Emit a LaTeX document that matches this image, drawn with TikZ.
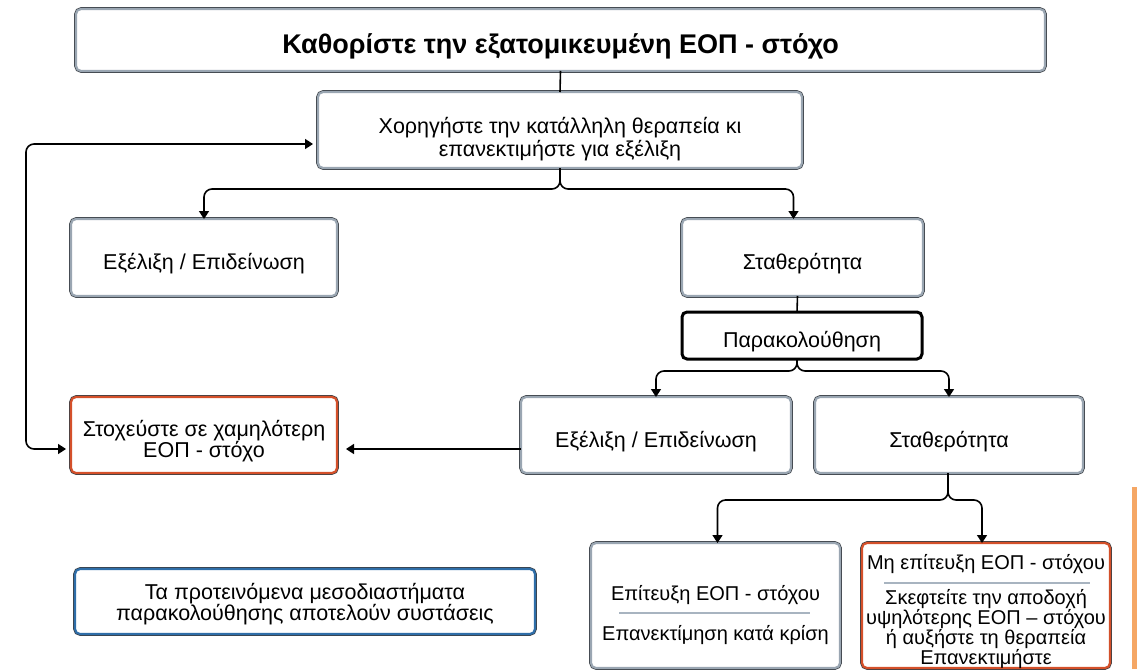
\documentclass[tikz,border=0pt]{standalone}
\usepackage{fontspec}
\setmainfont{Liberation Sans}
\usetikzlibrary{arrows.meta,calc}
\definecolor{boxgray}{HTML}{9AA6B2}
\definecolor{boxdark}{HTML}{3B4046}
\definecolor{boxred}{HTML}{D4502A}
\definecolor{boxblue}{HTML}{2F6EA8}
\definecolor{sepgray}{HTML}{A8B4C0}
\definecolor{edgeorange}{HTML}{F5A765}
\tikzset{
  x=1pt, y=-1pt,
  basebox/.style={rounded corners=5pt, fill=white, preaction={draw=boxdark, line width=3.6pt},
    line width=2.2pt, align=center, inner sep=0pt, outer sep=0pt,
    font=\fontsize{21.5}{20.5}\selectfont, execute at begin node={\rule{0pt}{29pt}}},
  graybox/.style={basebox, draw=boxgray},
  redbox/.style={basebox, draw=boxred},
  bluebox/.style={basebox, draw=boxblue},
  blackbox/.style={rounded corners=5pt, fill=white, draw=black, line width=3pt, align=center,
    inner sep=0pt, outer sep=0pt, font=\fontsize{21.5}{20.5}\selectfont,
    execute at begin node={\rule{0pt}{29pt}}},
  conn/.style={line width=1.6pt, draw=black, rounded corners=8pt},
  arr/.style={conn, -{Triangle[width=10pt,length=8pt]}},
  arrboth/.style={conn, {Triangle[width=10pt,length=8pt]}-{Triangle[width=10pt,length=8pt]}},
  sep/.style={draw=sepgray, line width=1.2pt},
  txt/.style={align=center, inner sep=0pt, font=\fontsize{20}{18}\selectfont}
}
\begin{document}
\begin{tikzpicture}
\useasboundingbox (0,0) rectangle (1137,669);
% boxes
\node[graybox, minimum width=969pt, minimum height=62pt, font=\fontsize{27}{28}\selectfont\bfseries,
  execute at begin node={\rule{0pt}{32pt}}] (T) at (560.5,40) {Καθορίστε την εξατομικευμένη ΕΟΠ - στόχο};
\node[graybox, minimum width=484pt, minimum height=76pt, font=\fontsize{21.5}{23}\selectfont,
  execute at begin node={\rule{0pt}{58pt}}] (S) at (560,130) {Χορηγήστε την κατάλληλη θεραπεία κι\\επανεκτιμήστε για εξέλιξη};
\node[graybox, minimum width=266pt, minimum height=77pt] (L1) at (204,257.5) {Εξέλιξη / Επιδείνωση};
\node[graybox, minimum width=241pt, minimum height=77pt] (R1) at (802.5,257.5) {Σταθερότητα};
\node[blackbox, minimum width=240pt, minimum height=47pt] (P) at (802,335.5) {Παρακολούθηση};
\node[redbox, minimum width=266pt, minimum height=76pt, execute at begin node={\rule{0pt}{50pt}}] (Red) at (204,435) {Στοχεύστε σε χαμηλότερη\\ΕΟΠ - στόχο};
\node[graybox, minimum width=270pt, minimum height=76pt] (L2) at (656,435) {Εξέλιξη / Επιδείνωση};
\node[graybox, minimum width=268pt, minimum height=76pt] (R2) at (949,435) {Σταθερότητα};
\node[graybox, minimum width=249pt, minimum height=125pt, execute at begin node={}] (B1) at (715.5,605.5) {};
\node[redbox, minimum width=248pt, minimum height=125pt, execute at begin node={}] (B2) at (986,605.5) {};
\node[bluebox, minimum width=460pt, minimum height=65pt, execute at begin node={\rule{0pt}{43pt}}] (N) at (305,601.5) {Τα προτεινόμενα μεσοδιαστήματα\\παρακολούθησης αποτελούν συστάσεις};
% texts in bottom boxes
\node[txt] (B1a) at (715.5,595) {Επίτευξη ΕΟΠ - στόχου};
\node[txt] (B1b) at (715.5,635) {Επανεκτίμηση κατά κρίση};
\node[txt] (B2a) at (986,564) {Μη επίτευξη ΕΟΠ - στόχου};
\node[txt] (B2b) at (986,629) {Σκεφτείτε την αποδοχή\\υψηλότερης ΕΟΠ – στόχου\\ή αυξήστε τη θεραπεία\\Επανεκτιμήστε};
\draw[sep] (619,613) -- (810,613);
\draw[sep] (884,583) -- (1090,583);
% orange edge
\fill[edgeorange] (1132,487) rectangle (1137,669);
% connectors
\coordinate (sb) at (560,189);
\coordinate (pb) at (797,371);
\coordinate (rb) at (948,500);
\coordinate (lp) at (26,300);
\draw[conn] (T.south) -- (S.north);
\draw[arr] (S.south) -- (sb) -| (L1.north);
\draw[arr] (S.south) -- (sb) -| ([xshift=-9pt]R1.north);
\draw[conn] ([xshift=-5pt]R1.south) -- ([xshift=-5pt]P.north);
\draw[arr] ([xshift=-5pt]P.south) -- (pb) -| (L2.north);
\draw[arr] ([xshift=-5pt]P.south) -- (pb) -| (R2.north);
\draw[arr, shorten >=9pt] ([yshift=-14pt]L2.west) -- ([yshift=-14pt]Red.east);
\draw[arrboth, shorten >=5pt, shorten <=5pt] ([yshift=-14pt]S.west) -| (lp) |- ([yshift=-14pt]Red.west);
\draw[arr] ([xshift=-1pt]R2.south) -- (rb) -| ([xshift=2pt]B1.north);
\draw[arr] ([xshift=-1pt]R2.south) -- (rb) -| ([xshift=-4pt]B2.north);
\end{tikzpicture}
\end{document}
